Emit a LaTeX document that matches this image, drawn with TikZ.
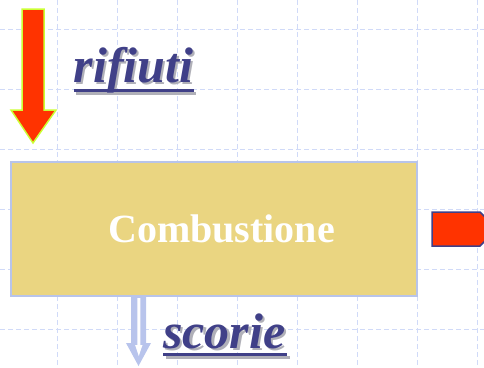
\documentclass[tikz,border=0pt]{standalone}
\usepackage{fontspec}
\newfontfamily\tnr{Liberation Serif}
\definecolor{gridc}{HTML}{D0DAF8}
\definecolor{redf}{HTML}{FF3300}
\definecolor{limec}{HTML}{CCFF33}
\definecolor{boxf}{HTML}{EAD581}
\definecolor{boxd}{HTML}{B8C4EA}
\definecolor{navy}{HTML}{404088}
\definecolor{lblue}{HTML}{B8C4EC}
\definecolor{shad}{HTML}{B0B0B8}
\begin{document}
\begin{tikzpicture}[x=1pt,y=-1pt,
  gridline/.style={draw=gridc,line width=1pt,dash pattern=on 5pt off 3pt},
  label/.style={font=\tnr\fontsize{50}{56}\selectfont\bfseries\itshape,inner sep=0pt,anchor=base west},
  boxstyle/.style={draw=boxd,fill=boxf,line width=1.5pt,minimum width=406pt,minimum height=134pt,
    font=\tnr\fontsize{40}{46}\selectfont\bfseries,text=white}]
\useasboundingbox (0,0) rectangle (484,367);
\clip (0,0) rectangle (484,367);
% grid
\foreach \x in {57,117,...,477} \draw[gridline] (\x,0) -- (\x,367);
\foreach \y in {29,89,...,329} \draw[gridline] (0,\y) -- (484,\y);
% red down arrow
\draw[fill=redf,draw=limec,line width=1.5pt,line join=miter]
  (22,9) -- (44,9) -- (44,110) -- (56,110) -- (33,143) -- (11,110) -- (22,110) -- cycle;
% rifiuti label
\node[label,text=shad] (rifs) at (75.5,84.5) {rifiuti};
\fill[shad] (76,91.5) rectangle (196,94.5);
\node[label,text=navy] (rif) at (73.5,82) {rifiuti};
\fill[navy] (73.5,89) rectangle (193.5,92);
% box
\node[boxstyle] (comb) at (214,229) {\hspace*{15pt}Combustione};
% right arrow
\draw[fill=redf,draw=navy,line width=1.5pt,line join=miter]
  (432,212) -- (480,212) -- (497,229) -- (480,246) -- (432,246) -- cycle;
% blue down arrow
\fill[lblue] (131,296) -- (146,296) -- (146,343) -- (151,343) -- (138.5,366) -- (126,343) -- (131,343) -- cycle;
\fill[white] (137.3,298) -- (140.3,298) -- (140.3,345) -- (142.5,345) -- (138.8,356) -- (135.1,345) -- (137.3,345) -- cycle;
% scorie label
\node[label,text=shad] (scos) at (165.5,350.5) {scorie};
\fill[shad] (166,355.5) rectangle (290,358.5);
\node[label,text=navy] (sco) at (163,348) {scorie};
\fill[navy] (163,353) rectangle (287,356);
\end{tikzpicture}
\end{document}
